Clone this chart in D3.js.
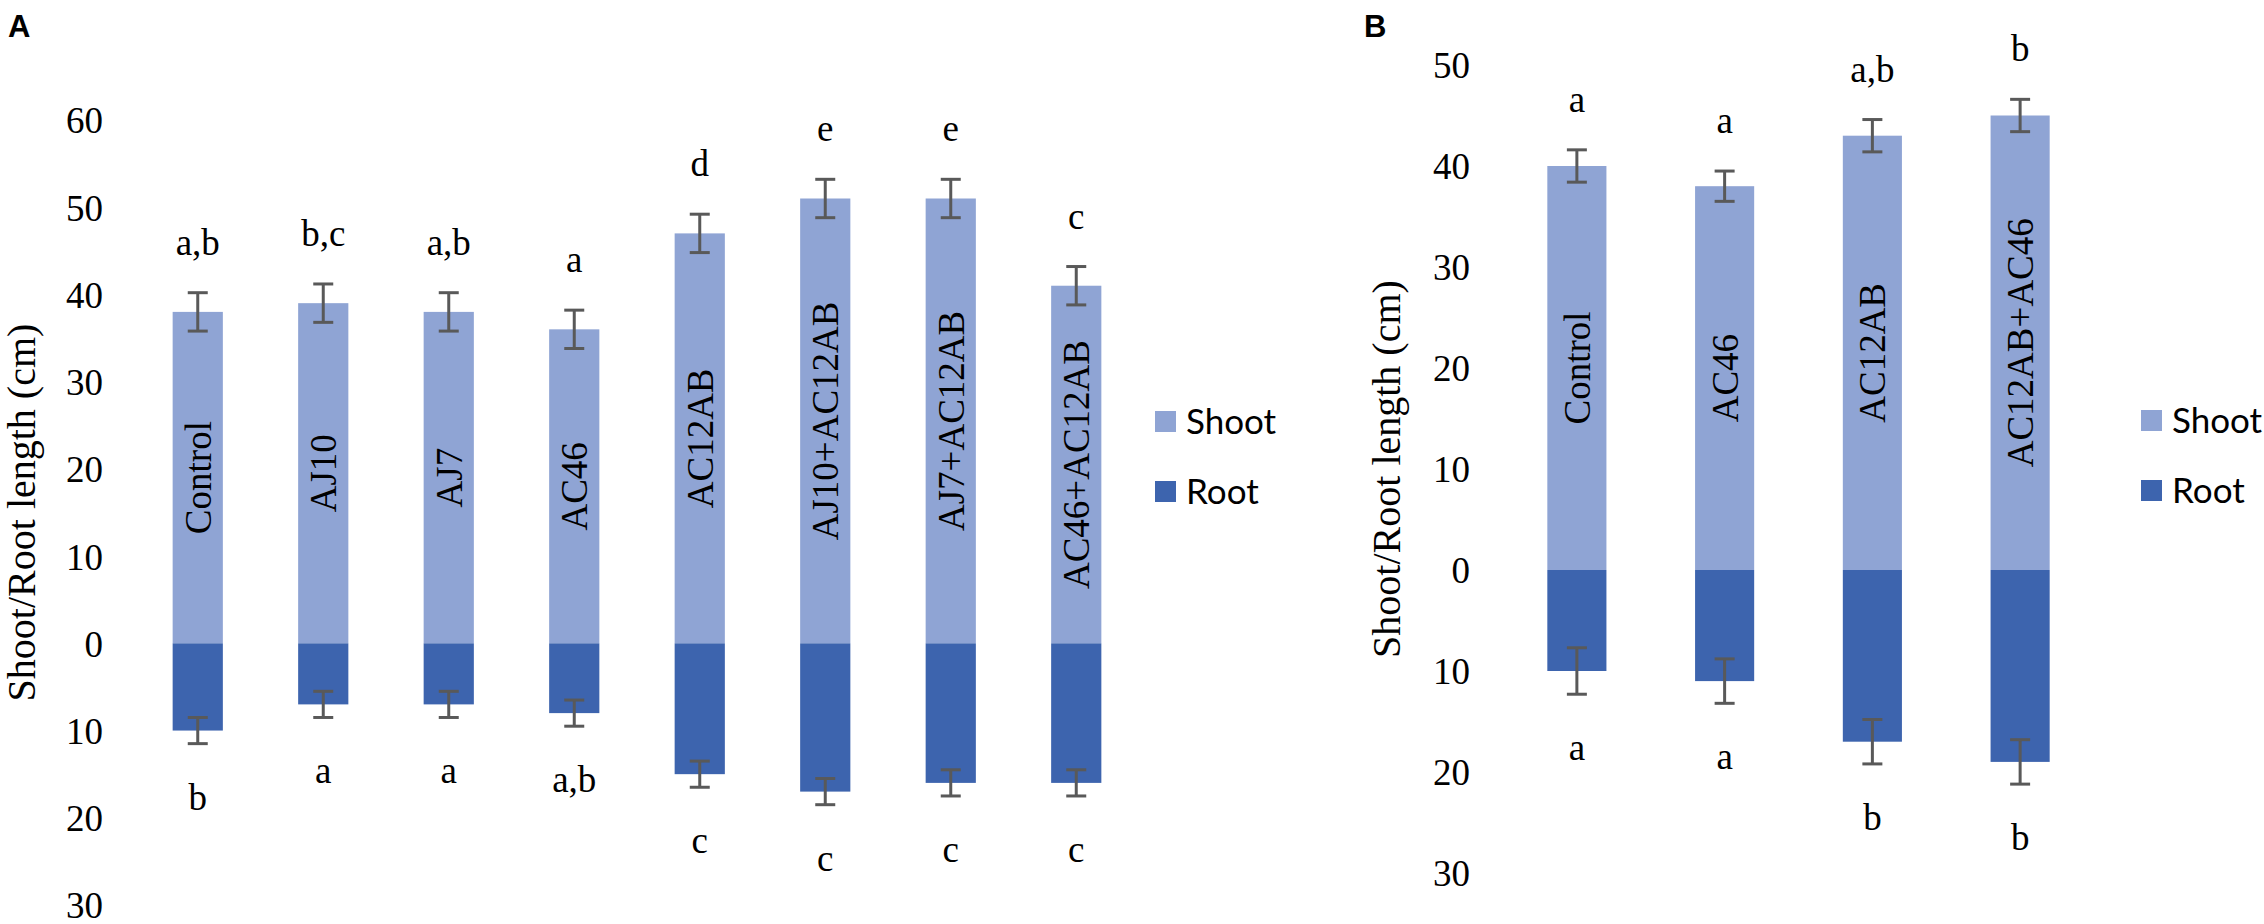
<!DOCTYPE html>
<html>
<head>
<meta charset="utf-8">
<script src="https://cdn.jsdelivr.net/npm/d3@7"></script>
<style>
  body { margin: 0; background: #fff; }
  svg { display: block; }
</style>
</head>
<body>
<div id="chart"></div>
<script>
// panel A data
const groupsA = ['Control', 'AJ10', 'AJ7', 'AC46', 'AC12AB', 'AJ10+AC12AB', 'AJ7+AC12AB', 'AC46+AC12AB'];
const shootA = [38, 39, 38, 36, 47, 51, 51, 41];
const shootErrA = [2.2, 2.2, 2.2, 2.2, 2.2, 2.2, 2.2, 2.2];
const rootA = [10, 7, 7, 8, 15, 17, 16, 16];
const rootErrA = [1.5, 1.5, 1.5, 1.5, 1.5, 1.5, 1.5, 1.5];
const shootLettersA = ['a,b', 'b,c', 'a,b', 'a', 'd', 'e', 'e', 'c'];
const rootLettersA = ['b', 'a', 'a', 'a,b', 'c', 'c', 'c', 'c'];
const ticksA = [60, 50, 40, 30, 20, 10, 0, -10, -20, -30];

// panel B data
const groupsB = ['Control', 'AC46', 'AC12AB', 'AC12AB+AC46'];
const shootB = [40, 38, 43, 45];
const shootErrB = [1.6, 1.5, 1.6, 1.6];
const rootB = [10, 11, 17, 19];
const rootErrB = [2.3, 2.2, 2.2, 2.2];
const shootLettersB = ['a', 'a', 'a,b', 'b'];
const rootLettersB = ['a', 'a', 'b', 'b'];
const ticksB = [50, 40, 30, 20, 10, 0, -10, -20, -30];

const seriesNames = ['Shoot', 'Root'];
const colors = { Shoot: '#8FA4D4', Root: '#3D64AE' };
const errColor = '#595959';
const serif = '"Liberation Serif", "Times New Roman", serif';
const sans = 'Lato, "Open Sans", sans-serif';

const width = 2264;
const height = 924;

const svg = d3.select('#chart')
  .append('svg')
  .attr('width', width)
  .attr('height', height);

// draws one panel: bars, error bars, letters, axis labels and legend
function drawPanel (p) {
  const g = svg.append('g');

  const yScale = d3.scaleLinear()
    .domain([-30, p.max])
    .range([p.bottom, p.top]);

  const xScale = d3.scaleBand()
    .domain(p.groups)
    .range(p.xRange)
    .paddingInner(0.6)
    .paddingOuter(0.3);

  const rows = p.groups.map((name, i) => ({
    name,
    shoot: p.shoot[i],
    shootErr: p.shootErr[i],
    root: p.root[i],
    rootErr: p.rootErr[i],
    top: p.shootLetters[i],
    low: p.rootLetters[i]
  }));

  // y axis: tick labels only, negatives shown as positive lengths
  const yAxis = d3.axisLeft(yScale)
    .tickValues(p.ticks)
    .tickFormat(d => Math.abs(d))
    .tickSize(0)
    .tickPadding(0);
  const axisG = g.append('g')
    .attr('transform', `translate(${p.axisX},0)`)
    .call(yAxis);
  axisG.select('.domain').remove();
  axisG.selectAll('text')
    .attr('font-family', serif)
    .attr('font-size', '37px')
    .attr('fill', '#000')
    .attr('dy', '0.35em');

  g.append('text')
    .attr('transform', `translate(${p.titleX},${(p.top + p.bottom) / 2}) rotate(-90)`)
    .attr('text-anchor', 'middle')
    .attr('font-family', serif)
    .attr('font-size', '40px')
    .text('Shoot/Root length (cm)');

  // shoot bars (positive) and root bars (negative)
  g.selectAll('.shoot').data(rows).enter().append('rect')
    .attr('class', 'shoot')
    .attr('x', d => xScale(d.name))
    .attr('width', xScale.bandwidth())
    .attr('y', d => yScale(d.shoot))
    .attr('height', d => yScale(0) - yScale(d.shoot))
    .attr('fill', colors.Shoot);

  g.selectAll('.root').data(rows).enter().append('rect')
    .attr('class', 'root')
    .attr('x', d => xScale(d.name))
    .attr('width', xScale.bandwidth())
    .attr('y', yScale(0))
    .attr('height', d => yScale(-d.root) - yScale(0))
    .attr('fill', colors.Root);

  // category names written inside the shoot bars
  g.selectAll('.barName').data(rows).enter().append('text')
    .attr('class', 'barName')
    .attr('transform', d => `translate(${xScale(d.name) + xScale.bandwidth() / 2},${yScale(d.shoot / 2)}) rotate(-90)`)
    .attr('text-anchor', 'middle')
    .attr('dy', '0.35em')
    .attr('font-family', serif)
    .attr('font-size', '37px')
    .text(d => d.name);

  // error bars
  const errs = [];
  rows.forEach(d => {
    errs.push({ name: d.name, v: d.shoot, e: d.shootErr });
    errs.push({ name: d.name, v: -d.root, e: d.rootErr });
  });
  const cap = 10;
  const eg = g.selectAll('.err').data(errs).enter().append('g')
    .attr('class', 'err')
    .attr('stroke', errColor)
    .attr('stroke-width', 3);
  const cx = d => xScale(d.name) + xScale.bandwidth() / 2;
  eg.append('line')
    .attr('x1', cx).attr('x2', cx)
    .attr('y1', d => yScale(d.v - d.e))
    .attr('y2', d => yScale(d.v + d.e));
  eg.append('line')
    .attr('x1', d => cx(d) - cap).attr('x2', d => cx(d) + cap)
    .attr('y1', d => yScale(d.v + d.e)).attr('y2', d => yScale(d.v + d.e));
  eg.append('line')
    .attr('x1', d => cx(d) - cap).attr('x2', d => cx(d) + cap)
    .attr('y1', d => yScale(d.v - d.e)).attr('y2', d => yScale(d.v - d.e));

  // significance letters above and below
  g.selectAll('.topLetter').data(rows).enter().append('text')
    .attr('class', 'topLetter')
    .attr('x', d => xScale(d.name) + xScale.bandwidth() / 2)
    .attr('y', d => yScale(d.shoot + d.shootErr) - 38)
    .attr('text-anchor', 'middle')
    .attr('font-family', serif)
    .attr('font-size', '37px')
    .text(d => d.top);

  g.selectAll('.lowLetter').data(rows).enter().append('text')
    .attr('class', 'lowLetter')
    .attr('x', d => xScale(d.name) + xScale.bandwidth() / 2)
    .attr('y', d => yScale(-(d.root + d.rootErr)) + 66)
    .attr('text-anchor', 'middle')
    .attr('font-family', serif)
    .attr('font-size', '37px')
    .text(d => d.low);

  // legend
  const legend = g.append('g').attr('transform', `translate(${p.legendX},${p.legendY})`);
  const item = legend.selectAll('.legendItem').data(seriesNames).enter().append('g')
    .attr('class', 'legendItem')
    .attr('transform', (d, i) => `translate(0,${i * 70})`);
  item.append('rect')
    .attr('width', 21).attr('height', 21)
    .attr('fill', d => colors[d]);
  item.append('text')
    .attr('x', 31)
    .attr('y', 11)
    .attr('dy', '0.35em')
    .attr('font-family', sans)
    .attr('font-size', '35px')
    .text(d => d);

  // panel letter
  svg.append('text')
    .attr('x', p.letterX)
    .attr('y', 37)
    .attr('font-family', '"Liberation Sans", Arial, sans-serif')
    .attr('font-weight', 'bold')
    .attr('font-size', '31px')
    .text(p.letter);
}

drawPanel({
  letter: 'A', letterX: 8,
  groups: groupsA, shoot: shootA, shootErr: shootErrA, root: rootA, rootErr: rootErrA,
  shootLetters: shootLettersA, rootLetters: rootLettersA, ticks: ticksA,
  max: 60, top: 120, bottom: 905,
  xRange: [135, 1139], axisX: 103, titleX: 35,
  legendX: 1155, legendY: 411
});

drawPanel({
  letter: 'B', letterX: 1364,
  groups: groupsB, shoot: shootB, shootErr: shootErrB, root: rootB, rootErr: rootErrB,
  shootLetters: shootLettersB, rootLetters: rootLettersB, ticks: ticksB,
  max: 50, top: 65, bottom: 873,
  xRange: [1503, 2094], axisX: 1470, titleX: 1400,
  legendX: 2141, legendY: 410
});
</script>
</body>
</html>
